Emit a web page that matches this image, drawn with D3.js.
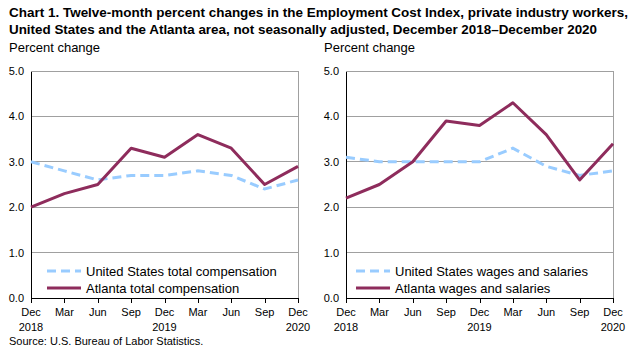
<!DOCTYPE html>
<html>
<head>
<meta charset="utf-8">
<script src="https://cdn.jsdelivr.net/npm/d3@7"></script>
<style>
  body { margin: 0; background: #fff; }
  text { font-family: "Liberation Sans", Arial, sans-serif; fill: #000; }
</style>
</head>
<body>
<div id="chart"></div>
<script>
// quarters along the x axis
const months = ["Dec", "Mar", "Jun", "Sep", "Dec", "Mar", "Jun", "Sep", "Dec"];
const years = ["2018", "", "", "", "2019", "", "", "", "2020"];
const yTicks = [0, 1, 2, 3, 4, 5];

// left panel: total compensation
const usTotal = [3.0, 2.8, 2.6, 2.7, 2.7, 2.8, 2.7, 2.4, 2.6];
const atlTotal = [2.0, 2.3, 2.5, 3.3, 3.1, 3.6, 3.3, 2.5, 2.9];

// right panel: wages and salaries
const usWages = [3.1, 3.0, 3.0, 3.0, 3.0, 3.3, 2.9, 2.7, 2.8];
const atlWages = [2.2, 2.5, 3.0, 3.9, 3.8, 4.3, 3.6, 2.6, 3.4];

const W = 635, H = 354;
const usColor = "#99ccff", atlColor = "#8e2c5c";

const svg = d3.select("#chart").append("svg")
    .attr("width", W)
    .attr("height", H);

// title
const title = svg.append("g").attr("font-weight", "bold").attr("font-size", 13);
title.append("text").attr("x", 9).attr("y", 17)
    .attr("textLength", 619).attr("lengthAdjust", "spacingAndGlyphs")
    .text("Chart 1. Twelve-month percent changes in the Employment Cost Index, private industry workers,");
title.append("text").attr("x", 9).attr("y", 34)
    .attr("textLength", 588).attr("lengthAdjust", "spacingAndGlyphs")
    .text("United States and the Atlanta area, not seasonally adjusted, December 2018\u2013December 2020");

function panel(left, right, us, atl, usLabel, atlLabel, legX) {
    const top = 71, bottom = 298;
    const x = d3.scaleLinear().domain([0, months.length - 1]).range([left, right]);
    const y = d3.scaleLinear().domain([0, 5]).range([bottom, top]);
    const g = svg.append("g");

    g.append("text").attr("x", left - 22).attr("y", 52).attr("font-size", 13).text("Percent change");

    // gridlines
    g.selectAll(".grid").data(yTicks.filter(d => d > 0)).enter().append("line")
        .attr("x1", left).attr("x2", right)
        .attr("y1", d => y(d)).attr("y2", d => y(d))
        .attr("stroke", "#a0a0a0").attr("stroke-width", 1).attr("shape-rendering", "crispEdges");
    g.append("line").attr("x1", right).attr("x2", right).attr("y1", top).attr("y2", bottom)
        .attr("stroke", "#a0a0a0").attr("shape-rendering", "crispEdges");

    // y axis
    const ya = g.append("g").attr("transform", `translate(${left},0)`)
        .call(d3.axisLeft(y).tickValues(yTicks).tickSize(0).tickPadding(7).tickFormat(d3.format(".1f")));
    ya.select(".domain").attr("stroke", "#000").attr("shape-rendering", "crispEdges");
    ya.selectAll("text").attr("font-size", 11).attr("font-family", null);

    // x axis
    const xa = g.append("g").attr("transform", `translate(0,${bottom})`)
        .call(d3.axisBottom(x).tickValues(d3.range(months.length))
            .tickSize(5).tickSizeOuter(0).tickFormat(""));
    xa.select(".domain").attr("stroke", "#000").attr("shape-rendering", "crispEdges");
    xa.selectAll("line").attr("shape-rendering", "crispEdges");
    g.selectAll(".mon").data(months).enter().append("text")
        .attr("x", (d, i) => x(i)).attr("y", bottom + 18)
        .attr("text-anchor", "middle").attr("font-size", 11).text(d => d);
    g.selectAll(".yr").data(years).enter().append("text")
        .attr("x", (d, i) => x(i)).attr("y", bottom + 33)
        .attr("text-anchor", "middle").attr("font-size", 11).text(d => d);

    const line = d3.line().x((d, i) => x(i)).y(d => y(d));
    g.append("path").datum(us).attr("d", line).attr("fill", "none")
        .attr("stroke", usColor).attr("stroke-width", 3).attr("stroke-dasharray", "9,5");
    g.append("path").datum(atl).attr("d", line).attr("fill", "none")
        .attr("stroke", atlColor).attr("stroke-width", 3).attr("stroke-linejoin", "round");

    // legend
    const leg = g.append("g");
    [[usLabel, usColor, "9,5", 271], [atlLabel, atlColor, null, 288]].forEach(([lab, c, dash, ly]) => {
        leg.append("line").attr("x1", legX).attr("x2", legX + 34).attr("y1", ly).attr("y2", ly)
            .attr("stroke", c).attr("stroke-width", 3).attr("stroke-dasharray", dash);
        leg.append("text").attr("x", legX + 39).attr("y", ly + 4.5).attr("font-size", 13).text(lab);
    });
}

panel(31, 298, usTotal, atlTotal, "United States total compensation", "Atlanta total compensation", 47);
panel(346, 613, usWages, atlWages, "United States wages and salaries", "Atlanta wages and salaries", 356);

svg.append("text").attr("x", 9).attr("y", 345).attr("font-size", 11)
    .text("Source: U.S. Bureau of Labor Statistics.");
</script>
</body>
</html>
